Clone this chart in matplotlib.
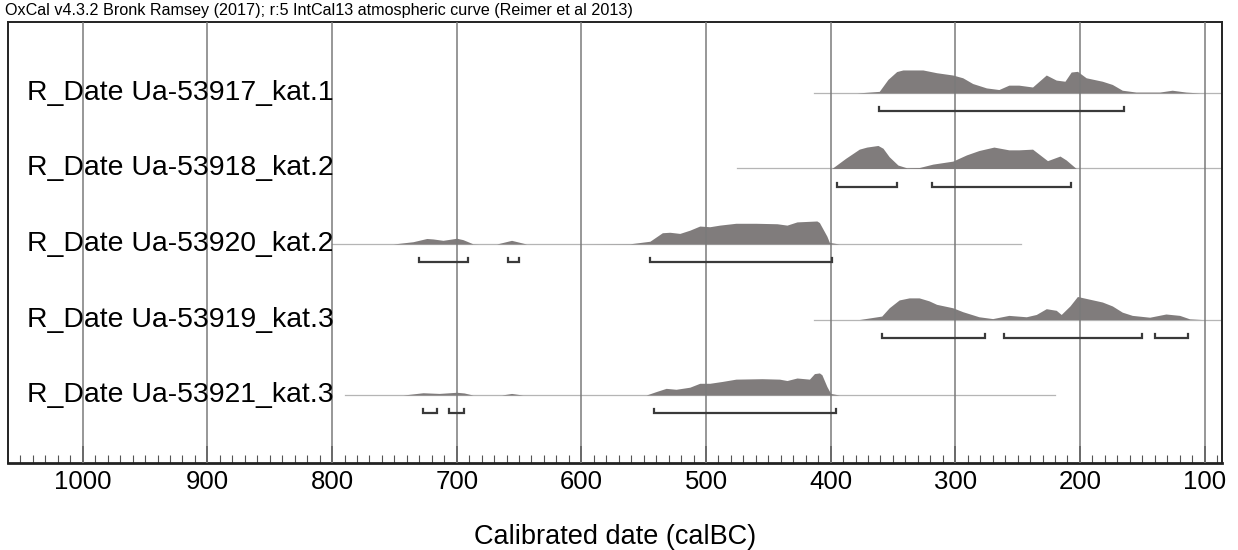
import matplotlib
matplotlib.use('Agg')
import matplotlib.pyplot as plt
import numpy as np

plt.rcParams['font.family'] = ['Liberation Sans', 'DejaVu Sans']

# Sample names, top to bottom
labels = ['R_Date Ua-53917_kat.1', 'R_Date Ua-53918_kat.2', 'R_Date Ua-53920_kat.2',
          'R_Date Ua-53919_kat.3', 'R_Date Ua-53921_kat.3']

# Probability distributions (calBC year, relative density 0..1)
dist1_years = [379, 361, 354, 347, 342, 326, 315, 302, 294, 286, 275, 265, 257, 249, 238, 227,
               219, 212, 207, 202, 195, 182, 174, 166, 155, 136, 126, 115, 104]
dist1_dens = [0.0, 0.07, 0.59, 0.93, 1.0, 1.0, 0.88, 0.78, 0.66, 0.41, 0.22, 0.15, 0.34, 0.34, 0.26, 0.78,
              0.56, 0.51, 0.91, 0.94, 0.66, 0.51, 0.37, 0.12, 0.04, 0.04, 0.12, 0.04, 0.0]

dist2_years = [399, 388, 377, 371, 362, 358, 353, 346, 339, 329, 318, 302, 291, 281, 269, 257,
               249, 238, 226, 216, 211, 203]
dist2_dens = [0.0, 0.44, 0.84, 0.93, 1.0, 0.88, 0.51, 0.15, 0.03, 0.04, 0.19, 0.32, 0.59, 0.78, 0.93, 0.81,
              0.81, 0.84, 0.34, 0.54, 0.37, 0.0]

dist3_years = [751, 735, 724, 719, 711, 700, 695, 687, 682, 668, 656, 644, 599, 561, 545, 535, 529,
               521, 513, 505, 497, 489, 476, 460, 443, 435, 427, 411, 409, 403, 401, 393]
dist3_dens = [0.0, 0.10, 0.24, 0.22, 0.16, 0.25, 0.19, 0.01, 0.0, 0.0, 0.16, 0.0, 0.0, 0.01, 0.12, 0.49, 0.51,
              0.46, 0.60, 0.78, 0.75, 0.82, 0.90, 0.90, 0.88, 0.82, 0.96, 1.0, 0.93, 0.34, 0.07, 0.0]

dist4_years = [377, 359, 353, 345, 337, 329, 321, 315, 302, 294, 281, 270, 257, 243, 235, 227, 219,
               215, 208, 202, 192, 182, 174, 166, 158, 144, 131, 120, 112, 102]
dist4_dens = [0.0, 0.15, 0.51, 0.85, 0.94, 0.94, 0.81, 0.66, 0.51, 0.34, 0.12, 0.04, 0.18, 0.12, 0.22, 0.47, 0.40,
              0.22, 0.59, 1.0, 0.88, 0.76, 0.59, 0.32, 0.18, 0.10, 0.24, 0.18, 0.03, 0.0]

dist5_years = [743, 727, 714, 700, 694, 687, 664, 656, 647, 548, 540, 532, 524, 513, 505, 497, 487,
               476, 455, 441, 435, 427, 417, 413, 409, 407, 403, 400, 393]
dist5_dens = [0.0, 0.10, 0.07, 0.12, 0.09, 0.0, 0.0, 0.07, 0.0, 0.0, 0.15, 0.29, 0.25, 0.34, 0.51, 0.51, 0.59,
              0.69, 0.71, 0.69, 0.63, 0.74, 0.69, 0.93, 0.96, 0.88, 0.37, 0.07, 0.0]

years_all = [dist1_years, dist2_years, dist3_years, dist4_years, dist5_years]
dens_all = [dist1_dens, dist2_dens, dist3_dens, dist4_dens, dist5_dens]

# extent of the thin baseline under each distribution (calBC)
line_start = [413, 475, 800, 413, 790]
line_end = [86, 86, 247, 86, 220]

# 95.4% ranges (from, to) in calBC
ranges = [
    [(361, 165)],
    [(395, 347), (319, 207)],
    [(730, 691), (659, 650), (545, 399)],
    [(359, 276), (261, 150), (140, 113)],
    [(727, 716), (706, 694), (542, 396)],
]

major_ticks = [1000, 900, 800, 700, 600, 500, 400, 300, 200, 100]

fig = plt.figure(figsize=(12.38, 5.5), dpi=100)
ax = fig.add_axes([8 / 1238, 87 / 550, 1214 / 1238, 441 / 550])
ax.set_xlim(1060, 86)
ax.set_ylim(0, 5.84)

fill_col = '#807c7c'
row_y = np.arange(len(labels))[::-1] + 0.9
h = 0.305

for xv in major_ticks:
    ax.axvline(xv, color='#7a7a7a', lw=1.1, zorder=3)

for i, y0 in enumerate(row_y):
    yrs = np.array(years_all[i])
    d = np.array(dens_all[i])
    ax.plot([line_start[i], line_end[i]], [y0, y0], color='#b5b5b5', lw=0.9, zorder=1)
    ax.fill_between(yrs, y0, y0 + d * h, color=fill_col, lw=0, zorder=2)
    yb = y0 - 0.24
    for a, b in ranges[i]:
        ax.plot([a, a, b, b], [yb + 0.05, yb, yb, yb + 0.05], color='#3a3a3a', lw=1.6, zorder=4,
                solid_joinstyle='miter')
    ax.text(0.0157, y0, labels[i], transform=ax.get_yaxis_transform(), fontsize=20.4,
            ha='left', va='center', zorder=5)

ax.set_xticks(major_ticks)
ax.set_xticklabels([str(t) for t in major_ticks], fontsize=18.5)
ax.set_xticks(np.arange(90, 1060, 10), minor=True)
ax.tick_params(axis='x', which='major', direction='in', length=12, width=1.1, pad=5)
ax.tick_params(axis='x', which='minor', direction='in', length=6, width=0.8, color='#555555')
ax.set_yticks([])
for s in ax.spines.values():
    s.set_linewidth(1.4)
    s.set_color('#222222')
ax.spines['bottom'].set_linewidth(2)

ax.set_xlabel('Calibrated date (calBC)', fontsize=19.5, labelpad=22)

fig.text(5 / 1238, 1 - 11 / 550, 'OxCal v4.3.2 Bronk Ramsey (2017); r:5 IntCal13 atmospheric curve (Reimer et al 2013)',
         fontsize=11.6, ha='left', va='center')

fig.savefig('out.png', dpi=100)
